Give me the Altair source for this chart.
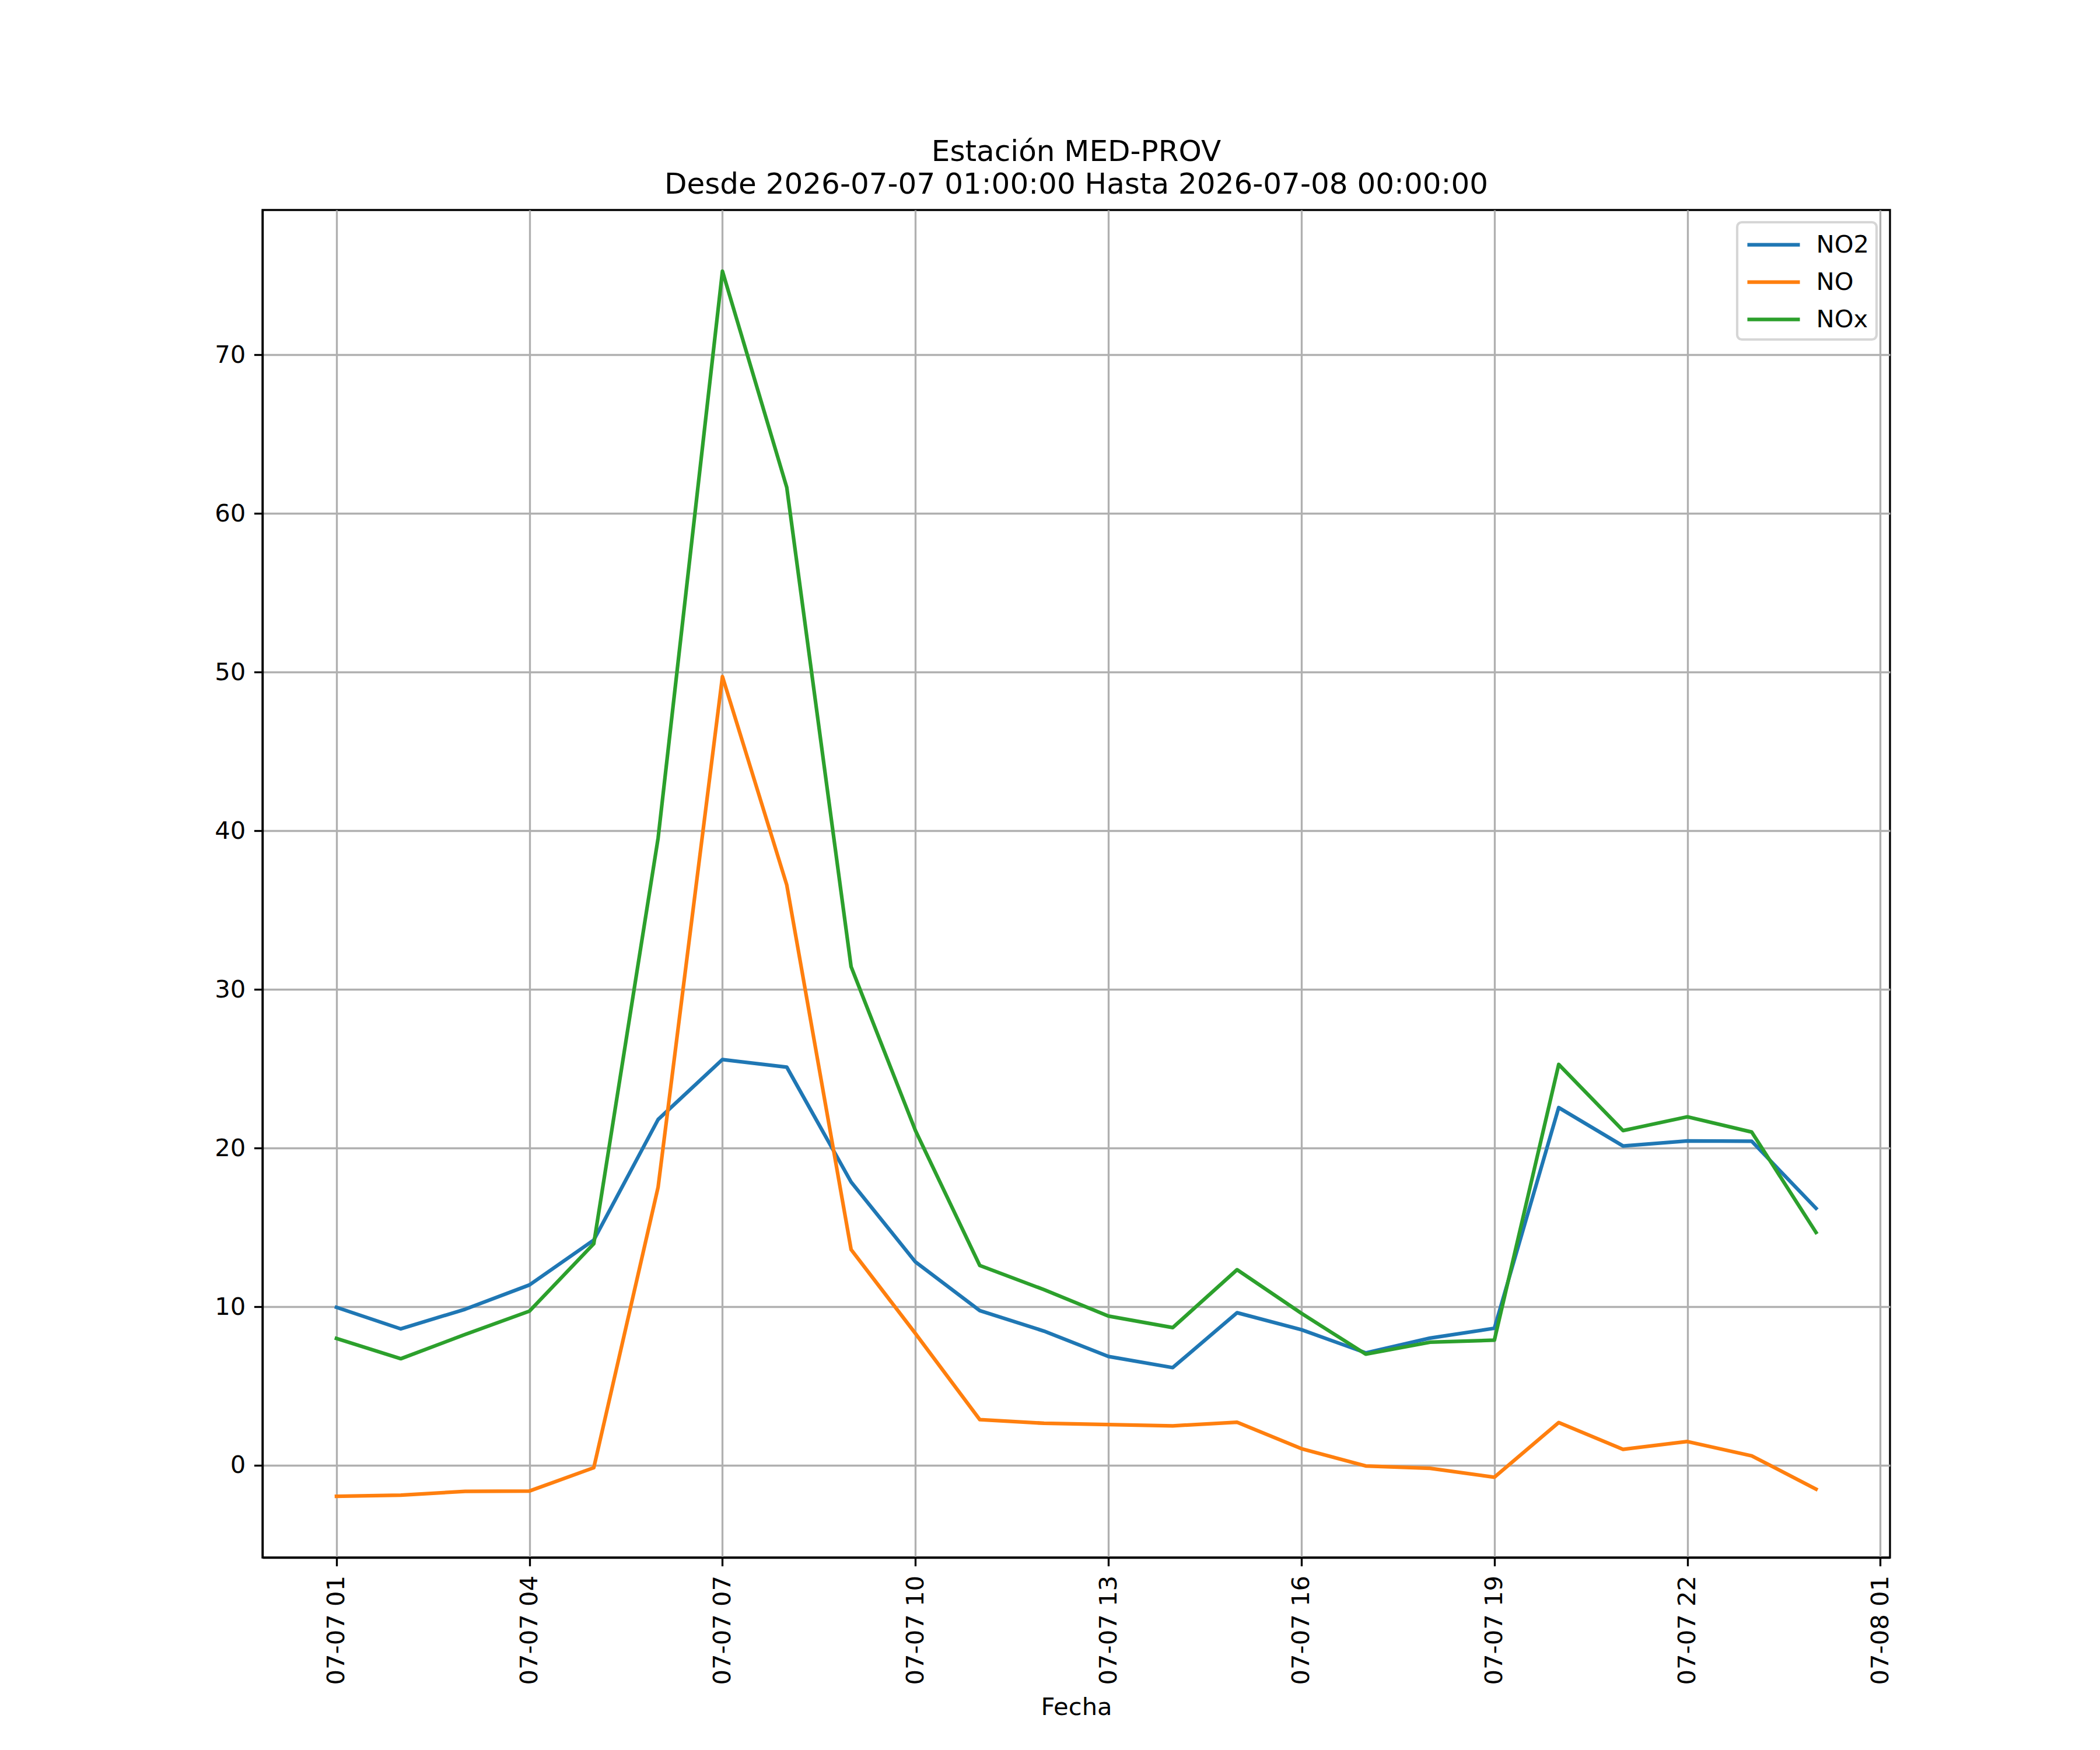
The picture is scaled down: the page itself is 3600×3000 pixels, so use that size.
import altair as alt
import pandas as pd

# hourly timestamps (UTC) 2026-07-07 01:00 ... 2026-07-08 00:00
times = [f"2026-07-07T{h:02d}:00:00Z" for h in range(1, 24)] + ["2026-07-08T00:00:00Z"]

series_names = ["NO2", "NO", "NOx"]
series_colors = ["#1f77b4", "#ff7f0e", "#2ca02c"]

no2 = [9.96, 8.6, 9.84, 11.37, 14.2, 21.8, 25.58, 25.1, 17.86, 12.82, 9.75, 8.46,
       6.86, 6.16, 9.62, 8.55, 7.09, 8.02, 8.64, 22.55, 20.13, 20.45, 20.43, 16.2]
no = [-1.95, -1.88, -1.64, -1.62, -0.15, 17.54, 49.72, 36.58, 13.6, 8.31, 2.88, 2.65,
      2.57, 2.49, 2.72, 1.05, -0.04, -0.19, -0.75, 2.7, 1.01, 1.5, 0.6, -1.5]
nox = [8.0, 6.72, 8.25, 9.72, 13.97, 39.54, 75.27, 61.64, 31.43, 21.1, 12.6, 11.07,
       9.41, 8.68, 12.33, 9.58, 7.01, 7.76, 7.89, 25.27, 21.1, 21.97, 21.01, 14.68]

y_ticks = [0, 10, 20, 30, 40, 50, 60, 70]
x_tick_hours = [(7, 1), (7, 4), (7, 7), (7, 10), (7, 13), (7, 16), (7, 19), (7, 22), (8, 1)]

title_line1 = "Estación MED-PROV"
title_line2 = "Desde 2026-07-07 01:00:00 Hasta 2026-07-08 00:00:00"

rows = []
for name, vals in zip(series_names, [no2, no, nox]):
    for t, v in zip(times, vals):
        rows.append({"Fecha": t, "valor": v, "serie": name})
df = pd.DataFrame(rows)

FONT = "DejaVu Sans"
FS = 41.67
LW = 3.33

x_values = [alt.DateTime(year=2026, month=7, date=d, hours=h, utc=True) for d, h in x_tick_hours]
x_domain = [alt.DateTime(year=2026, month=7, date=6, hours=23, minutes=51, utc=True),
            alt.DateTime(year=2026, month=7, date=8, hours=1, minutes=9, utc=True)]

chart = alt.Chart(df).mark_line(strokeWidth=6.25, strokeCap="square", strokeJoin="round").encode(
    x=alt.X("Fecha:T",
            scale=alt.Scale(type="utc", domain=x_domain, nice=False),
            axis=alt.Axis(values=x_values, format="%m-%d %H", labelAngle=270,
                          title="Fecha", labelPadding=16, titlePadding=36,
                          labelFlush=False, labelOverlap=False, labelLimit=600)),
    y=alt.Y("valor:Q",
            scale=alt.Scale(domain=[-5.81, 79.13], nice=False, zero=False),
            axis=alt.Axis(values=y_ticks, title=None, labelPadding=14.6, format="d")),
    color=alt.Color("serie:N",
                    scale=alt.Scale(domain=series_names, range=series_colors),
                    title=None,
                    legend=alt.Legend(orient="none", legendX=2528, legendY=21,
                                      symbolType="M-2,0H2", symbolSize=2025,
                                      symbolStrokeWidth=6.25, symbolOffset=24,
                                      labelOffset=47, labelFontSize=FS, labelFont=FONT,
                                      labelColor="black",
                                      rowPadding=16, padding=12.5,
                                      strokeColor="#d6d6d6", fillColor="white",
                                      cornerRadius=8)),
).properties(
    width=2790,
    height=2310,
    autosize=alt.AutoSizeParams(type="none"),
    padding={"left": 442, "top": 352, "right": 352, "bottom": 322},
    title=alt.TitleParams(text=title_line1, subtitle=title_line2,
                          font=FONT, fontSize=50, fontWeight="normal", color="black",
                          subtitleFont=FONT, subtitleFontSize=50, subtitleColor="black",
                          subtitlePadding=6, offset=18, anchor="middle"),
).configure_view(
    stroke="black", strokeWidth=LW
).configure_axis(
    domainColor="black", domainWidth=LW,
    tickColor="black", tickWidth=LW, tickSize=14.6,
    labelFont=FONT, labelFontSize=FS, labelColor="black",
    titleFont=FONT, titleFontSize=FS, titleFontWeight="normal", titleColor="black",
    gridColor="#b0b0b0", gridWidth=LW, grid=True
).configure_legend(
    strokeWidth=4.17
)

chart.save("out.html", embed_options={"renderer": "svg", "actions": False})
